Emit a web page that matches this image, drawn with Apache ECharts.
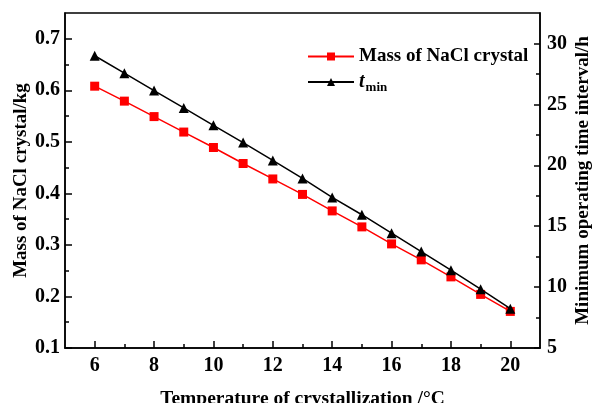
<!DOCTYPE html>
<html>
<head>
<meta charset="utf-8">
<script src="https://cdn.jsdelivr.net/npm/echarts@6/dist/echarts.min.js"></script>
<style>
    html, body { margin: 0; padding: 0; background: #fff; }
    #chart { width: 593px; height: 403px; }
</style>
</head>
<body>
<div id="chart"></div>
<script>
// data
const temps = [6, 7, 8, 9, 10, 11, 12, 13, 14, 15, 16, 17, 18, 19, 20]
const massNaCl = [0.608, 0.579, 0.549, 0.519, 0.489, 0.458, 0.428, 0.398, 0.366, 0.335, 0.302, 0.271, 0.238, 0.204, 0.171]
const tMin = [28.99, 27.56, 26.13, 24.71, 23.28, 21.86, 20.40, 18.92, 17.36, 15.94, 14.43, 12.92, 11.39, 9.83, 8.23]

const xMajor = [6, 8, 10, 12, 14, 16, 18, 20]
const xMinor = [7, 9, 11, 13, 15, 17, 19]
const leftMajor = [0.1, 0.2, 0.3, 0.4, 0.5, 0.6, 0.7]
const leftMinor = [0.15, 0.25, 0.35, 0.45, 0.55, 0.65]
const rightMajor = [5, 10, 15, 20, 25, 30]
const rightMinor = [7.5, 12.5, 17.5, 22.5, 27.5]

const font = 'Liberation Serif'

const chart = echarts.init(document.getElementById('chart'))

const lineAxis = { show: true, lineStyle: { color: '#000', width: 1.5 } }
const noLine = { show: false }

const option = {
    animation: false,
    grid: {
        left: 65, right: 53, top: 13, bottom: 55,
        outerBoundsMode: 'none',
        show: true, borderColor: '#000', borderWidth: 1.5
    },
    legend: {
        orient: 'vertical',
        left: 302,
        top: 42,
        itemWidth: 46,
        itemHeight: 10,
        itemGap: 6,
        data: ['Mass of NaCl crystal', 'tmin'],
        formatter: function (name) {
            return name === 'tmin' ? '{it|t}{sub|min}' : name
        },
        textStyle: {
            fontFamily: font, fontSize: 19, fontWeight: 'bold', color: '#000',
            rich: {
                it: { fontFamily: font, fontSize: 20, fontWeight: 'bold', fontStyle: 'italic', color: '#000' },
                sub: { fontFamily: font, fontSize: 13, fontWeight: 'bold', color: '#000', padding: [12, 0, 0, 1] }
            }
        }
    },
    xAxis: [
        {
            type: 'value', min: 5, max: 21,
            name: 'Temperature of crystallization /°C',
            nameLocation: 'middle', nameGap: 41, nameMoveOverlap: false,
            nameTextStyle: { fontFamily: font, fontSize: 19.5, fontWeight: 'bold', color: '#000' },
            axisLine: lineAxis,
            axisTick: { show: true, inside: true, length: 7, customValues: xMajor, lineStyle: { color: '#000', width: 1.5 } },
            axisLabel: { customValues: xMajor, margin: 8, fontFamily: font, fontSize: 20, fontWeight: 'bold', color: '#000' },
            splitLine: { show: false }
        },
        {
            type: 'value', min: 5, max: 21, position: 'bottom',
            axisLine: noLine,
            axisTick: { show: true, inside: true, length: 4, customValues: xMinor, lineStyle: { color: '#000', width: 1.5 } },
            axisLabel: { show: false },
            splitLine: { show: false }
        }
    ],
    yAxis: [
        {
            type: 'value', min: 0.1, max: 0.75, position: 'left',
            name: 'Mass of NaCl crystal/kg',
            nameLocation: 'middle', nameGap: 34, nameMoveOverlap: false,
            nameTextStyle: { fontFamily: font, fontSize: 19, fontWeight: 'bold', color: '#000' },
            axisLine: lineAxis,
            axisTick: { show: true, inside: true, length: 7, customValues: leftMajor, lineStyle: { color: '#000', width: 1.5 } },
            axisLabel: { customValues: leftMajor, margin: 5, fontFamily: font, fontSize: 20, fontWeight: 'bold', color: '#000',
                formatter: v => v.toFixed(1) },
            splitLine: { show: false }
        },
        {
            type: 'value', min: 5, max: 32.5, position: 'right',
            name: 'Minimum operating time interval/h',
            nameLocation: 'middle', nameGap: 34, nameRotate: 90, nameMoveOverlap: false,
            nameTextStyle: { fontFamily: font, fontSize: 19, fontWeight: 'bold', color: '#000' },
            axisLine: lineAxis,
            axisTick: { show: true, inside: true, length: 6, customValues: rightMajor, lineStyle: { color: '#000', width: 1.5 } },
            axisLabel: { customValues: rightMajor, margin: 7, fontFamily: font, fontSize: 20, fontWeight: 'bold', color: '#000' },
            splitLine: { show: false }
        },
        {
            type: 'value', min: 0.1, max: 0.75, position: 'left',
            axisLine: noLine,
            axisTick: { show: true, inside: true, length: 4, customValues: leftMinor, lineStyle: { color: '#000', width: 1.5 } },
            axisLabel: { show: false },
            splitLine: { show: false }
        },
        {
            type: 'value', min: 5, max: 32.5, position: 'right',
            axisLine: noLine,
            axisTick: { show: true, inside: true, length: 4, customValues: rightMinor, lineStyle: { color: '#000', width: 1.5 } },
            axisLabel: { show: false },
            splitLine: { show: false }
        }
    ],
    series: [
        {
            name: 'Mass of NaCl crystal',
            type: 'line',
            xAxisIndex: 0, yAxisIndex: 0,
            data: temps.map((t, i) => [t, massNaCl[i]]),
            symbol: 'rect', symbolSize: 9,
            itemStyle: { color: '#ff0000' },
            lineStyle: { color: '#ff0000', width: 1.5 },
            z: 3
        },
        {
            name: 'tmin',
            type: 'line',
            xAxisIndex: 0, yAxisIndex: 1,
            data: temps.map((t, i) => [t, tMin[i]]),
            symbol: 'triangle', symbolSize: 10,
            itemStyle: { color: '#000' },
            lineStyle: { color: '#000', width: 1.5 },
            z: 4
        }
    ]
}

chart.setOption(option)
</script>
</body>
</html>
